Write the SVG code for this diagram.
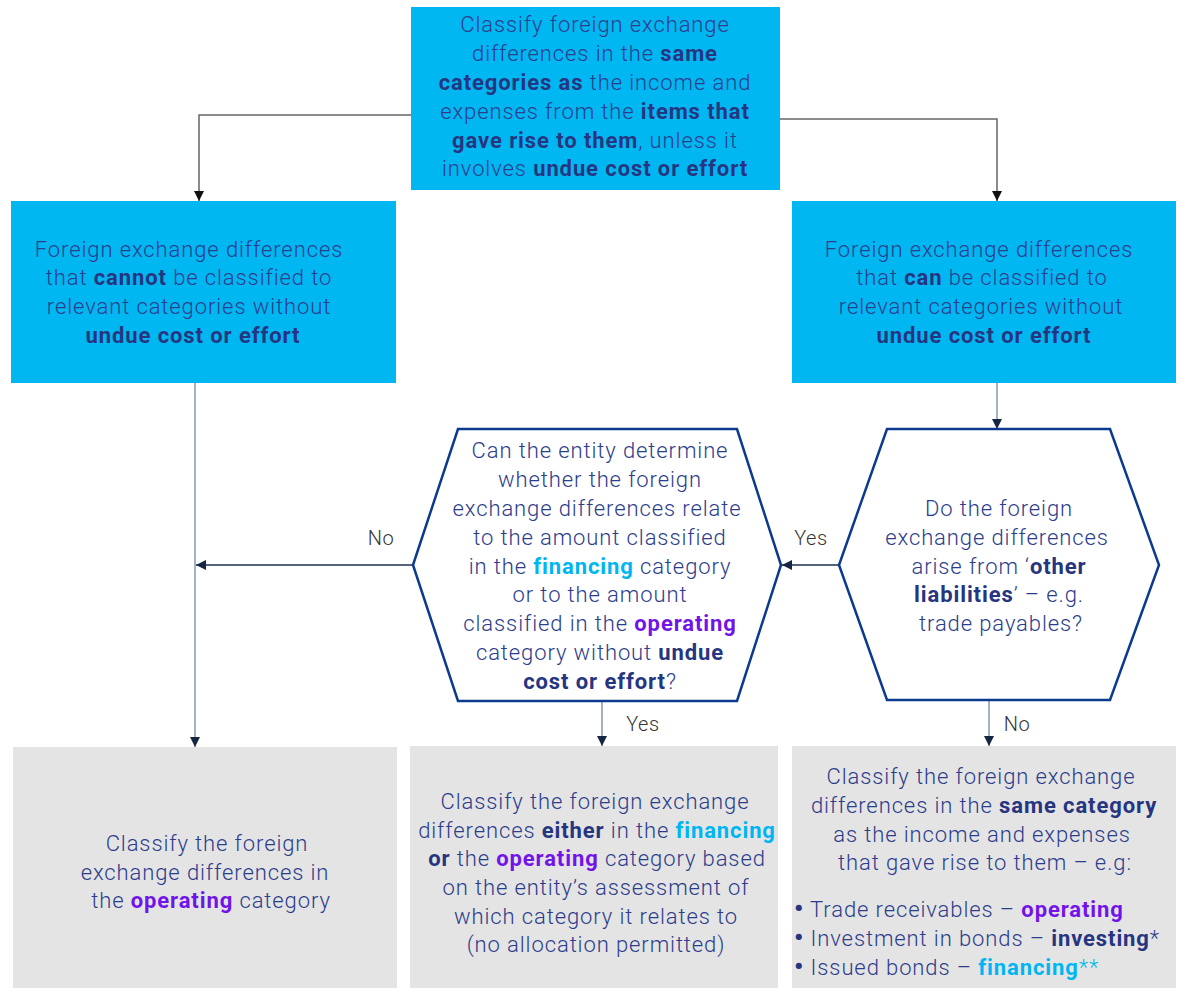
<svg xmlns="http://www.w3.org/2000/svg" width="1187" height="989" viewBox="0 0 1187 989">
<defs>
<marker id="ahK" viewBox="0 0 10 10" refX="10" refY="5" markerWidth="10" markerHeight="10" markerUnits="userSpaceOnUse" orient="auto"><path d="M0,0 L10,5 L0,10 z" fill="#111"/></marker>
<marker id="ahN" viewBox="0 0 10 10" refX="10" refY="5" markerWidth="10" markerHeight="10" markerUnits="userSpaceOnUse" orient="auto"><path d="M0,0 L10,5 L0,10 z" fill="#142642"/></marker>
<style>
.t{font-family:Roboto,"Liberation Sans",sans-serif;font-size:22px;font-weight:300;letter-spacing:0.9px;fill:#2c3d8c;text-anchor:middle}
.tl{font-family:Roboto,"Liberation Sans",sans-serif;font-size:22px;font-weight:300;letter-spacing:0.9px;fill:#2c3d8c}
.b{font-weight:700;fill:#263580}
.fin{font-weight:700;fill:#00b6f1}
.op{font-weight:700;fill:#7214e8}
.bul{font-weight:700;font-size:26px;fill:#263580}
.lbl{font-family:Roboto,"Liberation Sans",sans-serif;font-size:20px;font-weight:300;letter-spacing:0.6px;fill:#333;text-anchor:middle}
.blue{fill:#00b7f2}
.grey{fill:#e4e4e4}
.hex{fill:#fff;stroke:#0b3a8f;stroke-width:2.5}
.ct{fill:none;stroke:#666;stroke-width:1.5}
.cg{fill:none;stroke:#8a96a8;stroke-width:1.5}
.cn{fill:none;stroke:#1e2f4f;stroke-width:1.5}
</style>
</defs>
<g id="connectors">
<path class="ct" d="M411,115 H199 V201" marker-end="url(#ahK)"/>
<path class="ct" d="M780,119 H997 V201" marker-end="url(#ahK)"/>
<path class="cg" d="M195,383 V747" marker-end="url(#ahN)"/>
<path class="cn" d="M413,565 H196" marker-end="url(#ahN)"/>
<path class="cg" d="M997,383 V429" marker-end="url(#ahN)"/>
<path class="cn" d="M839,565 H782" marker-end="url(#ahN)"/>
<path class="cg" d="M602,701 V746" marker-end="url(#ahN)"/>
<path class="cg" d="M989,700 V746" marker-end="url(#ahN)"/>
<text class="lbl" x="381" y="545">No</text>
<text class="lbl" x="811" y="545">Yes</text>
<text class="lbl" x="643" y="731">Yes</text>
<text class="lbl" x="1017" y="731">No</text>
</g>
<g id="top">
<rect class="blue" x="411" y="7" width="369" height="183"/>
<text class="t" x="595" y="32">Classify foreign exchange</text>
<text class="t" x="595" y="61">differences in the <tspan class="b">same</tspan></text>
<text class="t" x="595" y="90"><tspan class="b">categories as</tspan> the income and</text>
<text class="t" x="595" y="119">expenses from the <tspan class="b">items that</tspan></text>
<text class="t" x="595" y="148"><tspan class="b">gave rise to them</tspan>, unless it</text>
<text class="t" x="595" y="176">involves <tspan class="b">undue cost or effort</tspan></text>
</g>
<g id="cannot">
<rect class="blue" x="11" y="201" width="385" height="182"/>
<text class="t" x="189" y="257">Foreign exchange differences</text>
<text class="t" x="189" y="285">that <tspan class="b">cannot</tspan> be classified to</text>
<text class="t" x="189" y="314">relevant categories without</text>
<text class="t" x="193" y="343"><tspan class="b">undue cost or effort</tspan></text>
</g>
<g id="can">
<rect class="blue" x="792" y="201" width="384" height="182"/>
<text class="t" x="979" y="257">Foreign exchange differences</text>
<text class="t" x="982" y="285">that <tspan class="b">can</tspan> be classified to</text>
<text class="t" x="981" y="314">relevant categories without</text>
<text class="t" x="984" y="343"><tspan class="b">undue cost or effort</tspan></text>
</g>
<g id="q2">
<polygon class="hex" points="458,429 737,429 781,565 737,701 458,701 413,565"/>
<text class="t" x="600" y="458">Can the entity determine</text>
<text class="t" x="600" y="487">whether the foreign</text>
<text class="t" x="597" y="516">exchange differences relate</text>
<text class="t" x="600" y="545">to the amount classified</text>
<text class="t" x="600" y="574">in the <tspan class="fin">financing</tspan> category</text>
<text class="t" x="600" y="602">or to the amount</text>
<text class="t" x="600" y="631">classified in the <tspan class="op">operating</tspan></text>
<text class="t" x="600" y="660">category without <tspan class="b">undue</tspan></text>
<text class="t" x="600" y="689"><tspan class="b">cost or effort</tspan>?</text>
</g>
<g id="q1">
<polygon class="hex" points="887,429 1110,429 1159,565 1110,700 887,700 839,565"/>
<text class="t" x="999" y="516">Do the foreign</text>
<text class="t" x="997" y="545">exchange differences</text>
<text class="t" x="999" y="574">arise from ‘<tspan class="b">other</tspan></text>
<text class="t" x="999" y="602"><tspan class="b">liabilities</tspan>’ – e.g.</text>
<text class="t" x="1001" y="631">trade payables?</text>
</g>
<g id="res-operating">
<rect class="grey" x="13" y="747" width="384" height="241"/>
<text class="t" x="207" y="851">Classify the foreign</text>
<text class="t" x="205" y="880">exchange differences in</text>
<text class="t" x="211" y="908">the <tspan class="op">operating</tspan> category</text>
</g>
<g id="res-either">
<rect class="grey" x="410" y="746" width="368" height="242"/>
<text class="t" x="595" y="809">Classify the foreign exchange</text>
<text class="t" x="597" y="838">differences <tspan class="b">either</tspan> in the <tspan class="fin">financing</tspan></text>
<text class="t" x="597" y="866"><tspan class="b">or</tspan> the <tspan class="op">operating</tspan> category based</text>
<text class="t" x="596" y="895">on the entity’s assessment of</text>
<text class="t" x="596" y="924">which category it relates to</text>
<text class="t" x="596" y="952">(no allocation permitted)</text>
</g>
<g id="res-same">
<rect class="grey" x="792" y="746" width="384" height="242"/>
<text class="t" x="981" y="784">Classify the foreign exchange</text>
<text class="t" x="984" y="813">differences in the <tspan class="b">same category</tspan></text>
<text class="t" x="982" y="842">as the income and expenses</text>
<text class="t" x="985" y="870">that gave rise to them – e.g:</text>
<text class="tl" x="794" y="917"><tspan class="bul">•</tspan> Trade receivables –  <tspan class="op">operating</tspan></text>
<text class="tl" x="794" y="946"><tspan class="bul">•</tspan> Investment in bonds – <tspan class="b">investing</tspan>*</text>
<text class="tl" x="794" y="975"><tspan class="bul">•</tspan> Issued bonds – <tspan class="fin">financing</tspan><tspan fill="#00b6f1">**</tspan></text>
</g>
</svg>
